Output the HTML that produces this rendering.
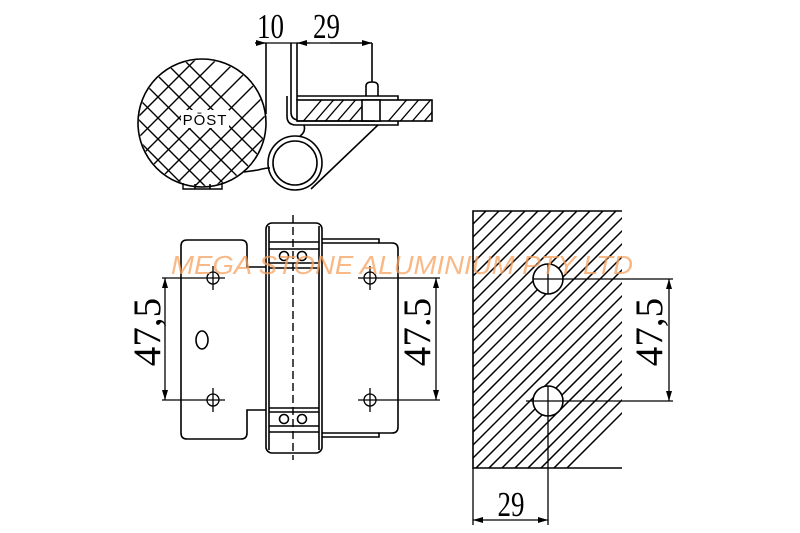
<!DOCTYPE html>
<html><head><meta charset="utf-8"><style>
html,body{margin:0;padding:0;background:#fff;width:800px;height:533px;overflow:hidden;}
svg{display:block;}
</style></head><body>
<svg width="800" height="533" viewBox="0 0 800 533" xmlns="http://www.w3.org/2000/svg" font-family="Liberation Serif, serif">
<defs>
<clipPath id="cc"><circle cx="202" cy="123" r="63"/></clipPath>
<clipPath id="blk"><rect x="473" y="211" width="149" height="257"/></clipPath>
<clipPath id="gl"><rect x="297" y="100" width="135" height="21"/></clipPath>
<marker id="ar" viewBox="0 0 10 6" refX="10" refY="3" markerWidth="10" markerHeight="6" orient="auto-start-reverse" markerUnits="userSpaceOnUse"><path d="M0,0 L10,3 L0,6 z" fill="#000"/></marker>
</defs>
<g stroke="#000" stroke-width="1.6" fill="none">
<circle cx="202" cy="123" r="64"/>
<g clip-path="url(#cc)" stroke-width="1.4">
<path d="M80,40 L300,260 M101,40 L321,260 M122,40 L342,260 M143,40 L363,260 M59,40 L279,260 M38,40 L258,260 M17,40 L237,260 M-4,40 L216,260 M-25,40 L195,260 M-46,40 L174,260 M164,40 L384,260"/>
<path d="M320,40 L100,260 M299,40 L79,260 M278,40 L58,260 M257,40 L37,260 M236,40 L16,260 M341,40 L121,260 M362,40 L142,260 M383,40 L163,260 M404,40 L184,260 M425,40 L205,260 M215,40 L-5,260"/>
</g>
<rect x="181" y="110" width="48" height="18" fill="#fff" stroke="none"/>
<path d="M183,183 L183,189 L222,189 L222,183" stroke-width="1.4"/>
<path d="M195,184 L195,189 M210,184 L210,189"/>
<path d="M266,43 L266,114"/>
<path d="M291,43 L291,112 Q291,120 299,120 L375,120"/>
<path d="M297,43 L297,100"/>
<path d="M287,96 L287,116 Q287,125 296,125 L398,125 L398,96 L297,96"/>
<rect x="297" y="100" width="135" height="21" fill="#fff"/>
<g clip-path="url(#gl)" stroke-width="1.3">
<path d="M300,125 L325,96 M312,125 L337,96 M322,125 L347,96 M334,125 L359,96 M346,125 L371,96 M385,125 L410,96 M397,125 L422,96 M409,125 L434,96 M421,125 L446,96 M431,125 L456,96"/>
</g>
<rect x="362" y="100" width="18" height="21" fill="#fff"/>
<path d="M366,96 L366,86 Q366,82 372,82 Q378,82 378,86 L378,96"/>
<path d="M372,43 L372,82"/>
<path d="M297,121 L375,121"/>
<circle cx="295" cy="163" r="27"/>
<circle cx="295" cy="163" r="22"/>
<path d="M304,125 Q306,132 300,136"/>
<path d="M378,125 L311,189"/>
<path d="M244,172 L258,170 Q265,168 270,168"/>
<path d="M255,43 L372,43" stroke-width="1.2"/>
<path d="M255,43 L266,43" marker-end="url(#ar)" stroke-width="1.2"/>
<path d="M310,43 L297,43" marker-end="url(#ar)" stroke-width="1.2"/>
<path d="M330,43 L372,43" marker-end="url(#ar)" stroke-width="1.2"/>
<path d="M187,240 L241,240 Q247,240 247,246 L247,267 L266,267"/>
<path d="M266,410 L247,410 L247,433 Q247,439 241,439 L187,439 Q181,439 181,433 L181,246 Q181,240 187,240"/>
<rect x="266" y="223" width="56" height="230" rx="6"/>
<path d="M269,226 L269,450 M319,226 L319,450"/>
<path d="M269,242 L319,242 M269,249 L319,249 M269,263 L319,263 M269,268 L319,268"/>
<path d="M269,408 L319,408 M269,412 L319,412 M269,426 L319,426 M269,432 L319,432"/>
<circle cx="284" cy="256" r="4.5"/><circle cx="302" cy="256" r="4.5"/>
<circle cx="284" cy="419" r="4.5"/><circle cx="302" cy="419" r="4.5"/>
<path d="M293,215 L293,460" stroke-dasharray="8,4" stroke-width="1.4"/>
<path d="M322,239 L379,239 L379,243 L392,243 Q398,243 398,249 L398,427 Q398,433 392,433 L379,433 L379,437 L322,437"/>
<path d="M322,243 L379,243 M322,433 L379,433"/>
<ellipse cx="202" cy="340" rx="6" ry="9"/>
<g stroke-width="1.3">
<circle cx="213" cy="278" r="6"/><path d="M201,278 L225,278 M213,266 L213,290"/>
<circle cx="213" cy="400" r="6"/><path d="M201,400 L225,400 M213,388 L213,412"/>
<circle cx="370" cy="278" r="6"/><path d="M358,278 L382,278 M370,266 L370,290"/>
<circle cx="370" cy="400" r="6"/><path d="M358,400 L382,400 M370,388 L370,412"/>
<path d="M162,278 L201,278 M162,400 L201,400"/>
<path d="M382,278 L440,278 M382,400 L440,400"/>
<path d="M165,300 L165,278" marker-end="url(#ar)"/><path d="M165,300 L165,400" marker-end="url(#ar)"/>
<path d="M436,300 L436,278" marker-end="url(#ar)"/><path d="M436,300 L436,400" marker-end="url(#ar)"/>
</g>
<path d="M622,211 L473,211 L473,468 L622,468"/>
<g clip-path="url(#blk)" stroke-width="1.5">
<path d="M473,224 L486,211 M473,237 L499,211 M473,250 L512,211 M473,263 L525,211 M473,276 L538,211 M473,289 L551,211 M473,302 L564,211 M473,315 L577,211 M473,328 L590,211 M473,341 L603,211 M473,354 L616,211 M473,367 L629,211 M473,380 L642,211 M473,393 L655,211 M473,406 L668,211 M473,419 L681,211 M473,432 L694,211 M473,445 L707,211 M473,458 L720,211 M473,471 L733,211 M473,484 L746,211 M473,497 L759,211 M473,510 L772,211 M473,523 L785,211 M473,536 L798,211 M473,549 L811,211 M473,562 L824,211"/>
</g>
<circle cx="548" cy="279" r="15" fill="#fff"/>
<circle cx="548" cy="401" r="15" fill="#fff"/>
<g stroke-width="1.3">
<path d="M533,279 L673,279 M548,264 L548,294"/>
<path d="M526,401 L673,401 M548,386 L548,525"/>
<path d="M473,468 L473,525"/>
<path d="M669,300 L669,279" marker-end="url(#ar)"/><path d="M669,300 L669,401" marker-end="url(#ar)"/>
<path d="M500,520 L473,520" marker-end="url(#ar)"/><path d="M500,520 L548,520" marker-end="url(#ar)"/>
</g>
</g>
<g fill="#000">
<text transform="translate(257,38) scale(0.9,1.15)" font-size="30">10</text>
<text transform="translate(313,38) scale(0.9,1.15)" font-size="30">29</text>
<text x="205" y="125" font-size="15" font-family="Liberation Sans, sans-serif" text-anchor="middle" letter-spacing="1">PŌST</text>
<text transform="translate(160,332) rotate(-90) scale(1.15,1.15)" font-size="34" text-anchor="middle">47,5</text>
<text transform="translate(430,332) rotate(-90) scale(1.15,1.15)" font-size="34" text-anchor="middle">47.5</text>
<text transform="translate(662,332) rotate(-90) scale(1.15,1.15)" font-size="34" text-anchor="middle">47,5</text>
<text transform="translate(511,516) scale(0.9,1.15)" font-size="30" text-anchor="middle">29</text>
</g>
<text x="402" y="274" font-size="26" font-style="italic" font-family="Liberation Sans, sans-serif" text-anchor="middle" fill="#f7a260" opacity="0.75" textLength="462" lengthAdjust="spacingAndGlyphs">MEGA STONE ALUMINIUM PTY LTD</text>
</svg>
</body></html>
